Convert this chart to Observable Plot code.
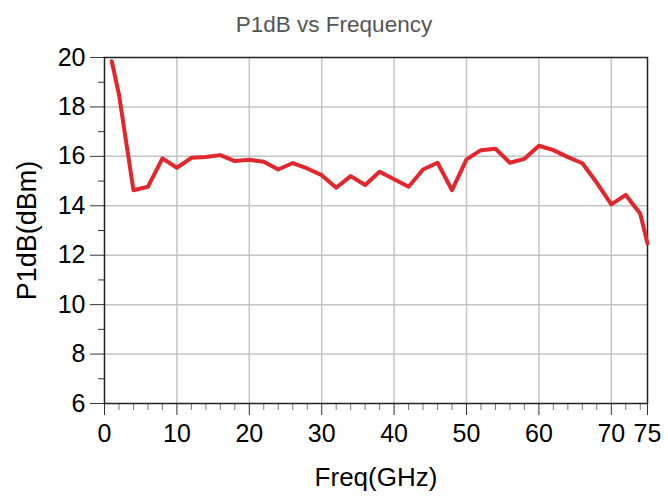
<!DOCTYPE html>
<html>
<head>
<meta charset="utf-8">
<script src="https://cdn.jsdelivr.net/npm/d3@7"></script>
<script src="https://cdn.jsdelivr.net/npm/@observablehq/plot@0.6"></script>
<style>
  html, body { margin: 0; padding: 0; background: #fff; }
  #title { width: 668px; height: 44px; line-height: 50px; text-align: center;
    font-family: "Liberation Sans", Arial, sans-serif; font-size: 22.5px; color: #555; }
  #chart svg { display: block; }
</style>
</head>
<body>
<div id="title">P1dB vs Frequency</div>
<div id="chart"></div>
<script>
const freq = [1, 2, 4, 6, 8, 10, 12, 14, 16, 18, 20, 22, 24, 26, 28, 30, 32, 34, 36, 38, 40, 42, 44, 46, 48, 50, 52, 54, 56, 58, 60, 62, 64, 66, 68, 70, 72, 74, 75];
const p1db = [19.85, 18.5, 14.63, 14.77, 15.92, 15.54, 15.94, 15.97, 16.05, 15.81, 15.86, 15.78, 15.47, 15.73, 15.51, 15.24, 14.73, 15.2, 14.84, 15.38, 15.07, 14.77, 15.47, 15.74, 14.63, 15.88, 16.25, 16.31, 15.74, 15.9, 16.43, 16.25, 15.97, 15.72, 14.93, 14.06, 14.44, 13.68, 12.47];
const xMajorTicks = [0, 10, 20, 30, 40, 50, 60, 70, 75];
const xMinorTicks = [2, 4, 6, 8, 12, 14, 16, 18, 22, 24, 26, 28, 32, 34, 36, 38, 42, 44, 46, 48, 52, 54, 56, 58, 62, 64, 66, 68, 72, 74];
const yMajorTicks = [6, 8, 10, 12, 14, 16, 18, 20];
const yMinorTicks = [7, 9, 11, 13, 15, 17, 19];
const xGrid = [10, 20, 30, 40, 50, 60, 70];
const yGrid = [8, 10, 12, 14, 16, 18];
const xLabel = "Freq(GHz)";
const yLabel = "P1dB(dBm)";

const data = freq.map((f, i) => ({f, p: p1db[i]}));

const chart = Plot.plot({
  width: 668,
  height: 454,
  marginLeft: 104,
  marginRight: 21,
  marginTop: 13,
  marginBottom: 95,
  style: {fontFamily: "'Liberation Sans', Arial, sans-serif", color: "#000", background: "#fff"},
  x: {domain: [0, 75]},
  y: {domain: [6, 20]},
  marks: [
    Plot.gridX(xGrid, {stroke: "#c4c4c4", strokeOpacity: 1, strokeWidth: 1.5}),
    Plot.gridY(yGrid, {stroke: "#c4c4c4", strokeOpacity: 1, strokeWidth: 1.5}),
    Plot.axisX({ticks: xMinorTicks, tickSize: 7, tickFormat: () => "", stroke: "#777", label: null}),
    Plot.axisY({ticks: yMinorTicks, tickSize: 6, tickFormat: () => "", stroke: "#333", label: null}),
    Plot.axisX({ticks: xMajorTicks, tickSize: 12, tickPadding: 9, fontSize: 25, stroke: "#333", label: null}),
    Plot.axisY({ticks: yMajorTicks, tickSize: 14, tickPadding: 5, fontSize: 25, stroke: "#333", label: null}),
    Plot.frame({stroke: "#222", strokeWidth: 1.5}),
    Plot.line(data, {x: "f", y: "p", stroke: "#e3262c", strokeWidth: 4, strokeLinejoin: "round"}),
    Plot.text([xLabel], {frameAnchor: "bottom", lineAnchor: "middle", textAnchor: "middle", dy: 74, fontSize: 26, text: d => d}),
    Plot.text([yLabel], {frameAnchor: "left", lineAnchor: "middle", textAnchor: "middle", dx: -77, rotate: -90, fontSize: 27, text: d => d})
  ]
});
document.getElementById("chart").appendChild(chart);
</script>
</body>
</html>
